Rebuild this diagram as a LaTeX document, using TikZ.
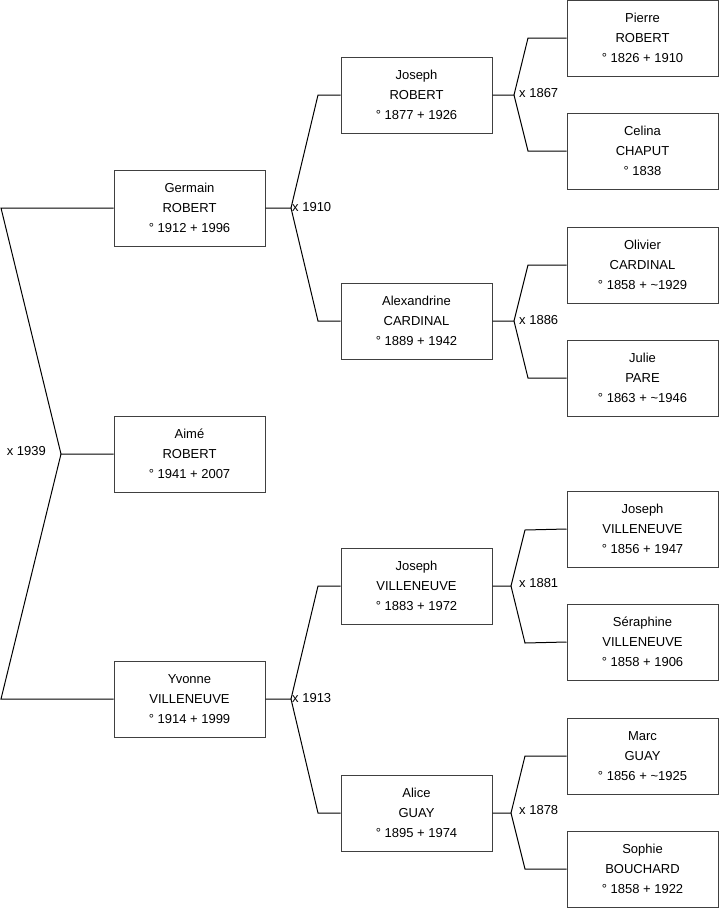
\documentclass[tikz,border=0pt]{standalone}
\usepackage{fontspec}
\setmainfont{Liberation Sans}
\begin{document}
\begin{tikzpicture}[x=1pt,y=-1pt,
  person/.style={draw=black!75, line width=1pt, fill=white, minimum width=151pt, minimum height=76pt, inner sep=0pt, align=center, font=\fontsize{13}{20}\selectfont},
  link/.style={draw=black, line width=1pt},
  mlabel/.style={font=\fontsize{13}{15}\selectfont, inner sep=0pt}]
\useasboundingbox (0,0) rectangle (719,908);
% column 1
\node[person] (germain) at (189.5,208) {Germain\\ROBERT\\° 1912 + 1996};
\node[person] (aime) at (189.5,454) {Aimé\\ROBERT\\° 1941 + 2007};
\node[person] (yvonne) at (189.5,699) {Yvonne\\VILLENEUVE\\° 1914 + 1999};
% column 2
\node[person] (josephR) at (416.5,95) {Joseph\\ROBERT\\° 1877 + 1926};
\node[person] (alexandrine) at (416.5,321) {Alexandrine\\CARDINAL\\° 1889 + 1942};
\node[person] (josephV) at (416.5,586) {Joseph\\VILLENEUVE\\° 1883 + 1972};
\node[person] (alice) at (416.5,813) {Alice\\GUAY\\° 1895 + 1974};
% column 3
\node[person] (pierre) at (642.5,38) {Pierre\\ROBERT\\° 1826 + 1910};
\node[person] (celina) at (642.5,151) {Celina\\CHAPUT\\° 1838};
\node[person] (olivier) at (642.5,265) {Olivier\\CARDINAL\\° 1858 + \textasciitilde1929};
\node[person] (julie) at (642.5,378) {Julie\\PARE\\° 1863 + \textasciitilde1946};
\node[person] (josephV2) at (642.5,529) {Joseph\\VILLENEUVE\\° 1856 + 1947};
\node[person] (seraphine) at (642.5,642) {Séraphine\\VILLENEUVE\\° 1858 + 1906};
\node[person] (marc) at (642.5,756) {Marc\\GUAY\\° 1856 + \textasciitilde1925};
\node[person] (sophie) at (642.5,869) {Sophie\\BOUCHARD\\° 1858 + 1922};
% root couple
\coordinate (j0) at (61,454);
\coordinate (c0a) at (1,208);
\coordinate (c0b) at (1,699);
\draw[link] (aime.west) -- (j0) -- (c0a) -- (germain.west);
\draw[link] (j0) -- (c0b) -- (yvonne.west);
\node[mlabel, anchor=east] (m1939) at (46,451) {x 1939};
% generation 2
\coordinate (j1) at (291,208);
\coordinate (c1a) at (318,95);
\coordinate (c1b) at (318,321);
\draw[link] (germain.east) -- (j1) -- (c1a) -- (josephR.west);
\draw[link] (j1) -- (c1b) -- (alexandrine.west);
\node[mlabel, anchor=west] (m1910) at (292,207) {x 1910};
\coordinate (j2) at (291,699);
\coordinate (c2a) at (318,586);
\coordinate (c2b) at (318,813);
\draw[link] (yvonne.east) -- (j2) -- (c2a) -- (josephV.west);
\draw[link] (j2) -- (c2b) -- (alice.west);
\node[mlabel, anchor=west] (m1913) at (292,698) {x 1913};
% generation 3
\coordinate (j3) at (514,95);
\coordinate (c3a) at (528,38);
\coordinate (c3b) at (528,151);
\draw[link] (josephR.east) -- (j3) -- (c3a) -- (pierre.west);
\draw[link] (j3) -- (c3b) -- (celina.west);
\node[mlabel, anchor=west] (m1867) at (519,93) {x 1867};
\coordinate (j4) at (514,321);
\coordinate (c4a) at (528,265);
\coordinate (c4b) at (528,378);
\draw[link] (alexandrine.east) -- (j4) -- (c4a) -- (olivier.west);
\draw[link] (j4) -- (c4b) -- (julie.west);
\node[mlabel, anchor=west] (m1886) at (519,320) {x 1886};
\coordinate (j5) at (511,586);
\coordinate (c5a) at (525,530);
\coordinate (c5b) at (525,643);
\draw[link] (josephV.east) -- (j5) -- (c5a) -- (josephV2.west);
\draw[link] (j5) -- (c5b) -- (seraphine.west);
\node[mlabel, anchor=west] (m1881) at (519,583) {x 1881};
\coordinate (j6) at (511,813);
\coordinate (c6a) at (525,756);
\coordinate (c6b) at (525,869);
\draw[link] (alice.east) -- (j6) -- (c6a) -- (marc.west);
\draw[link] (j6) -- (c6b) -- (sophie.west);
\node[mlabel, anchor=west] (m1878) at (519,810) {x 1878};
\end{tikzpicture}
\end{document}
